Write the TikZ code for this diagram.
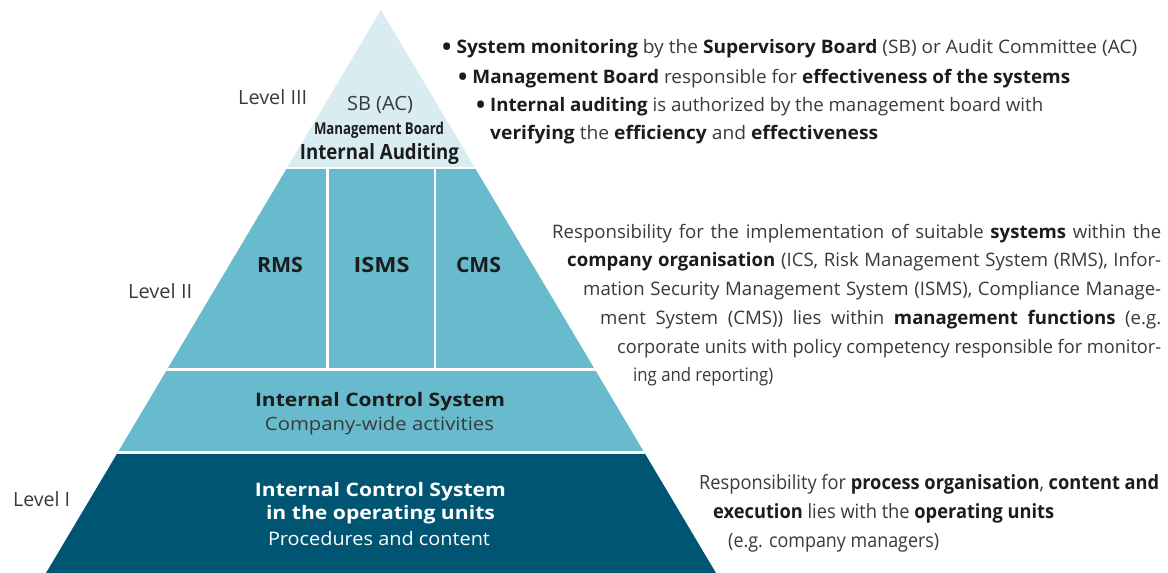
\documentclass[tikz,border=0pt]{standalone}
\usepackage{fontspec}
\usepackage{graphicx}
\setmainfont{Open Sans}
\definecolor{toplight}{RGB}{216,236,242}
\definecolor{midteal}{RGB}{104,186,205}
\definecolor{darkteal}{RGB}{0,85,114}
\definecolor{txtgray}{RGB}{58,58,58}
\definecolor{txtbold}{RGB}{28,28,28}
\newlength\tmpw
\newcommand{\fitw}[2]{\resizebox{#1pt}{\height}{#2}}
\newcommand{\jline}[2]{\settowidth{\tmpw}{#2}\ifdim\tmpw<#1pt\hbox to #1pt{#2}\else\resizebox{#1pt}{\height}{#2}\fi}
\newcommand{\bt}[1]{{\bfseries\color{txtbold}#1}}
\newcommand{\bul}{{\bfseries\color{txtbold}\raisebox{-2.2pt}{\scalebox{1.3}{•}}}}
\tikzset{
  lft/.style={inner sep=0pt, anchor=base west, text=txtgray, font=\fontsize{18.6}{20}\selectfont},
  ctr/.style={inner sep=0pt, anchor=base, text=txtgray, font=\fontsize{18.6}{20}\selectfont},
  lvl/.style={lft, font=\fontsize{19.6}{21}\selectfont, text=txtgray},
  band/.style={line width=2.6pt, draw=white}
}
\begin{document}
\begin{tikzpicture}[x=1pt,y=-1pt]
\useasboundingbox (0,0) rectangle (1168,573);
\fill[white] (0,0) rectangle (1168,573);
% pyramid
\begin{scope}
  \clip (0,0) rectangle (1168,573);
  \clip (381,10) -- (381-0.595*600,610) -- (381+0.595*600,610) -- cycle;
  \fill[toplight] (0,0) rectangle (1168,167.8);
  \fill[midteal] (0,167.8) rectangle (1168,452);
  \fill[darkteal] (0,452) rectangle (1168,610);
  \draw[band] (0,167.8) -- (1168,167.8);
  \draw[band] (0,369.7) -- (1168,369.7);
  \draw[band] (0,452.2) -- (1168,452.2);
  \draw[band] (327.5,167.8) -- (327.5,369.7);
  \draw[band] (434.8,167.8) -- (434.8,369.7);
\end{scope}
% level labels
\node[lvl] (l3) at (238,104) {\fitw{69}{Level III}};
\node[lvl] (l2) at (128,298) {\fitw{64}{Level II}};
\node[lvl] (l1) at (13,506) {\fitw{57}{Level I}};
% level III contents
\node[ctr, font=\fontsize{19.6}{21}\selectfont] (sbac) at (380,110.7) {\fitw{66}{SB (AC)}};
\node[ctr, text=txtbold, font=\fontsize{16.3}{18}\selectfont\bfseries] (mb) at (379,134.3) {\fitw{130}{Management Board}};
\node[ctr, text=txtbold, font=\fontsize{21}{23}\selectfont\bfseries] (ia) at (379.5,159.3) {\fitw{159}{Internal Auditing}};
% level II contents
\node[ctr, text=txtbold, font=\fontsize{21}{23}\selectfont\bfseries] (rms) at (280,272) {\fitw{46}{RMS}};
\node[ctr, text=txtbold, font=\fontsize{21}{23}\selectfont\bfseries] (isms) at (381.5,272) {\fitw{56}{ISMS}};
\node[ctr, text=txtbold, font=\fontsize{21}{23}\selectfont\bfseries] (cms) at (478.5,272) {\fitw{45}{CMS}};
\node[ctr, text=txtbold, font=\fontsize{18.6}{20}\selectfont\bfseries] (ics) at (380,406) {\fitw{250}{Internal Control System}};
\node[ctr, font=\fontsize{18.2}{20}\selectfont] (cwa) at (379.5,430.7) {\fitw{229}{Company-wide activities}};
% level I contents
\node[ctr, text=white, font=\fontsize{18.6}{20}\selectfont\bfseries] (ics1) at (380.5,496.7) {\fitw{251}{Internal Control System}};
\node[ctr, text=white, font=\fontsize{18.6}{20}\selectfont\bfseries] (ou) at (380.5,519.3) {\fitw{229}{in the operating units}};
\node[ctr, text=white, font=\fontsize{18.6}{20}\selectfont] (pc) at (379,545) {\fitw{222}{Procedures and content}};
% top right text
\node[lft] (t1) at (442,53) {\fitw{695}{\bul\ \bt{System monitoring} by the \bt{Supervisory Board} (SB) or Audit Committee (AC)}};
\node[lft] (t2) at (458,83) {\fitw{612}{\bul\ \bt{Management Board} responsible for \bt{effectiveness of the systems}}};
\node[lft] (t3) at (476,111) {\fitw{567}{\bul\ \bt{Internal auditing} is authorized by the management board with}};
\node[lft] (t4) at (490,139) {\fitw{388}{\bt{verifying} the \bt{efficiency} and \bt{effectiveness}}};
% level II text
\node[lft] (p1) at (552,238.3) {\jline{609}{Responsibility for the implementation of suitable \bt{systems} within the}};
\node[lft] (p2) at (567,266.7) {\jline{594}{\bt{company organisation} (ICS, Risk Management System (RMS), Infor-}};
\node[lft] (p3) at (583,295.7) {\jline{578}{mation Security Management System (ISMS), Compliance Manage-}};
\node[lft] (p4) at (600,324) {\jline{561}{ment System (CMS)) lies within \bt{management functions} (e.g.}};
\node[lft] (p5) at (617,353) {\jline{544}{corporate units with policy competency responsible for monitor-}};
\node[lft] (p6) at (633,381.7) {\fitw{140}{ing and reporting)}};
% level I text
\node[lft, font=\fontsize{19.6}{21}\selectfont] (r1) at (699,489) {\fitw{460}{Responsibility for \bt{process organisation}, \bt{content and}}};
\node[lft, font=\fontsize{19.6}{21}\selectfont] (r2) at (713,518) {\fitw{341}{\bt{execution} lies with the \bt{operating units}}};
\node[lft, font=\fontsize{19.6}{21}\selectfont] (r3) at (728,547) {\fitw{211}{(e.g. company managers)}};
\end{tikzpicture}
\end{document}
